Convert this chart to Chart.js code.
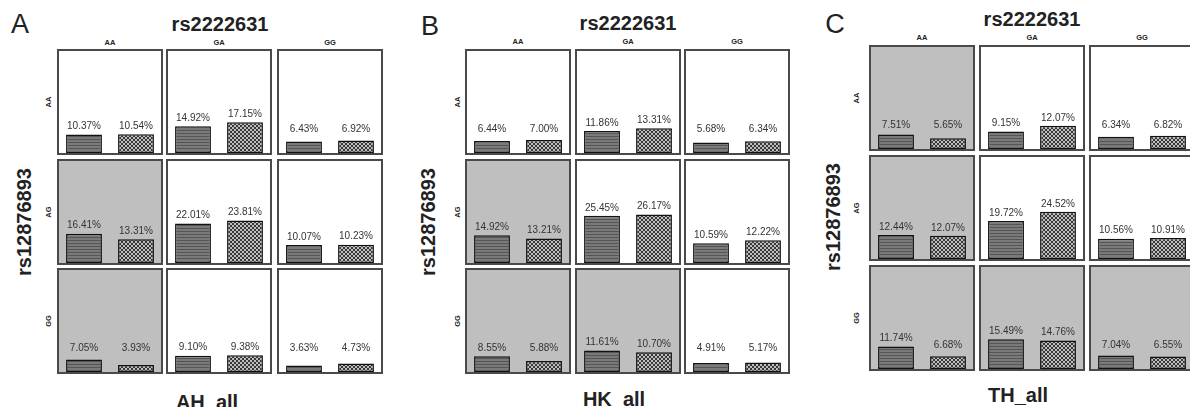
<!DOCTYPE html>
<html>
<head>
<meta charset="utf-8">
<script src="https://cdn.jsdelivr.net/npm/chart.js@4.4.1/dist/chart.umd.min.js"></script>
<style>
  html, body { margin: 0; padding: 0; background: #fff; }
  body { width: 1190px; height: 407px; position: relative; overflow: hidden;
         font-family: "Liberation Sans", Arial, sans-serif; color: #222; }
  .t { position: absolute; transform: translate(-50%, -50%); white-space: nowrap; line-height: 1; }
  .v { transform: translate(-50%, -50%) rotate(-90deg); }
  canvas.cell { position: absolute; }
</style>
</head>
<body>
<script>
const colGenotypes = ["AA", "GA", "GG"];   // rs2222631
const rowGenotypes = ["AA", "AG", "GG"];   // rs12876893
const barNames = ["bar 1", "bar 2"];

// values row by row (AA, AG, GG) x columns (AA, GA, GG)
const ahFirst  = [10.37, 14.92, 6.43, 16.41, 22.01, 10.07, 7.05, 9.10, 3.63];
const ahSecond = [10.54, 17.15, 6.92, 13.31, 23.81, 10.23, 3.93, 9.38, 4.73];
const hkFirst  = [6.44, 11.86, 5.68, 14.92, 25.45, 10.59, 8.55, 11.61, 4.91];
const hkSecond = [7.00, 13.31, 6.34, 13.21, 26.17, 12.22, 5.88, 10.70, 5.17];
const thFirst  = [7.51, 9.15, 6.34, 12.44, 19.72, 10.56, 11.74, 15.49, 7.04];
const thSecond = [5.65, 12.07, 6.82, 12.07, 24.52, 10.91, 6.68, 14.76, 6.55];

// highlighted cells (1 = grey background)
const ahShaded = [0, 0, 0, 1, 0, 0, 1, 0, 0];
const hkShaded = [0, 0, 0, 1, 0, 0, 1, 1, 0];
const thShaded = [1, 0, 0, 1, 0, 0, 1, 1, 1];

const panels = [
  { letter: "A", name: "AH_all", first: ahFirst, second: ahSecond, shaded: ahShaded, yMax: 57,
    colX: [57, 166, 277], rowY: [49, 159, 268],
    letterAt: [20, 24], titleAt: [220, 24], headY: 43, rowLabX: 49, vertAt: [24, 222], nameAt: [207, 402] },
  { letter: "B", name: "HK_all", first: hkFirst, second: hkSecond, shaded: hkShaded, yMax: 55,
    colX: [465, 575, 684], rowY: [49, 159, 268],
    letterAt: [430, 26], titleAt: [628, 23], headY: 42, rowLabX: 458, vertAt: [428, 222], nameAt: [614, 399] },
  { letter: "C", name: "TH_all", first: thFirst, second: thSecond, shaded: thShaded, yMax: 53,
    colX: [869, 979, 1089], rowY: [45, 155, 265],
    letterAt: [835, 24], titleAt: [1032, 19], headY: 38, rowLabX: 857, vertAt: [833, 217], nameAt: [1018, 395] }
];

const CELL_W = 106, CELL_H = 106;

function makePattern(w, h, draw) {
  const c = document.createElement("canvas");
  c.width = w; c.height = h;
  draw(c.getContext("2d"));
  return document.createElement("canvas").getContext("2d").createPattern(c, "repeat");
}

// horizontal line fill for the first bar, chequer fill for the second
const stripeFill = makePattern(1, 3, ctx => {
  ctx.fillStyle = "#7a7a7a"; ctx.fillRect(0, 0, 1, 3);
  ctx.fillStyle = "#555"; ctx.fillRect(0, 0, 1, 1);
});
const checkFill = makePattern(4, 4, ctx => {
  ctx.fillStyle = "#383838"; ctx.fillRect(0, 0, 4, 4);
  ctx.fillStyle = "#bdbdbd"; ctx.fillRect(0, 0, 2, 2); ctx.fillRect(2, 2, 2, 2);
});

function addText(text, x, y, css, vertical) {
  const d = document.createElement("div");
  d.className = "t" + (vertical ? " v" : "");
  d.textContent = text;
  d.style.left = x + "px";
  d.style.top = y + "px";
  d.style.cssText += css;
  document.body.appendChild(d);
}

const cellFrame = {
  id: "cellFrame",
  beforeDraw(chart, args, opts) {
    const { ctx, width, height } = chart;
    ctx.save();
    ctx.fillStyle = opts.fill;
    ctx.fillRect(0, 0, width, height);
    ctx.restore();
  },
  afterDraw(chart) {
    const { ctx, width, height } = chart;
    ctx.save();
    ctx.strokeStyle = "#4a4a4a";
    ctx.lineWidth = 2;
    ctx.strokeRect(1, 1, width - 2, height - 2);
    ctx.restore();
  }
};

const valueLabels = {
  id: "valueLabels",
  afterDatasetsDraw(chart) {
    const ctx = chart.ctx, area = chart.chartArea;
    const values = chart.data.datasets[0].data;
    ctx.save();
    ctx.font = "10px 'Liberation Sans', Arial, sans-serif";
    ctx.fillStyle = "#333";
    ctx.textAlign = "center";
    ctx.textBaseline = "middle";
    chart.getDatasetMeta(0).data.forEach((bar, i) => {
      const y = Math.min(bar.y - 8, area.bottom - 24);
      ctx.fillText(values[i].toFixed(2) + "%", bar.x, y);
    });
    ctx.restore();
  }
};

panels.forEach(p => {
  addText(p.letter, p.letterAt[0], p.letterAt[1], "font-size:27px;");
  addText("rs2222631", p.titleAt[0], p.titleAt[1], "font-size:20px;font-weight:bold;");
  addText("rs12876893", p.vertAt[0], p.vertAt[1], "font-size:20px;font-weight:bold;", true);
  addText(p.name, p.nameAt[0], p.nameAt[1], "font-size:20px;font-weight:bold;");

  colGenotypes.forEach((g, c) => {
    addText(g, p.colX[c] + CELL_W / 2, p.headY, "font-size:7.5px;font-weight:bold;");
  });
  rowGenotypes.forEach((g, r) => {
    addText(g, p.rowLabX, p.rowY[r] + CELL_H / 2, "font-size:7.5px;font-weight:bold;", true);
  });

  for (let r = 0; r < 3; r++) {
    for (let c = 0; c < 3; c++) {
      const k = r * 3 + c;
      const canvas = document.createElement("canvas");
      canvas.className = "cell";
      canvas.width = CELL_W;
      canvas.height = CELL_H;
      canvas.style.left = p.colX[c] + "px";
      canvas.style.top = p.rowY[r] + "px";
      document.body.appendChild(canvas);

      new Chart(canvas, {
        type: "bar",
        data: {
          labels: barNames,
          datasets: [{
            data: [p.first[k], p.second[k]],
            backgroundColor: [stripeFill, checkFill],
            borderColor: "#111",
            borderWidth: 1.5,
            borderSkipped: false,
            barPercentage: 0.69,
            categoryPercentage: 1
          }]
        },
        options: {
          responsive: false,
          animation: false,
          devicePixelRatio: 1,
          layout: { padding: { top: 2, bottom: 2, left: 1, right: 1 } },
          plugins: {
            legend: { display: false },
            tooltip: { enabled: false },
            cellFrame: { fill: p.shaded[k] ? "#bfbfbf" : "#ffffff" }
          },
          scales: {
            x: { display: false },
            y: { display: false, min: 0, max: p.yMax }
          }
        },
        plugins: [cellFrame, valueLabels]
      });
    }
  }
});
</script>
</body>
</html>
